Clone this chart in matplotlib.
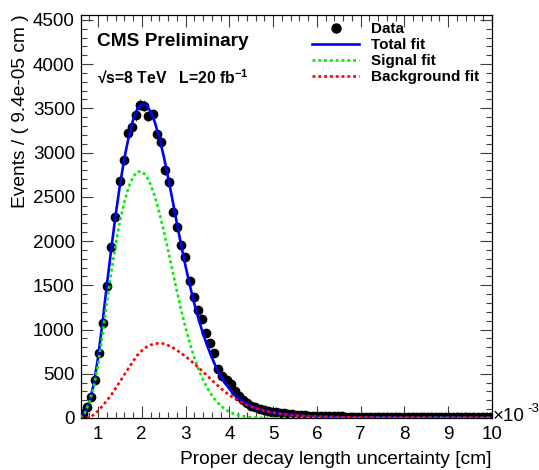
import numpy as np
import matplotlib
matplotlib.use("Agg")
import matplotlib.pyplot as plt
from matplotlib.lines import Line2D
from matplotlib.ticker import MultipleLocator, FuncFormatter

plt.rcParams['font.family'] = ['Liberation Sans', 'DejaVu Sans']
plt.rcParams['mathtext.fontset'] = 'custom'
plt.rcParams['mathtext.rm'] = 'Liberation Sans'
plt.rcParams['mathtext.bf'] = 'Liberation Sans:bold'

# ---- data ----
x_lo, x_hi, n_bins = 0.6e-3, 10.0e-3, 100
counts = [40, 125, 235, 425, 740, 1070, 1490, 1930, 2275, 2675,
          2920, 3220, 3290, 3420, 3540, 3530, 3416, 3439, 3210, 3115,
          2800, 2665, 2330, 2155, 1950, 1818, 1548, 1365, 1220, 1120,
          966, 845, 735, 550, 480, 435, 385, 300, 250, 205,
          172, 140, 122, 105, 92, 83, 72, 66, 56, 51,
          46, 40, 37, 33, 31, 27, 25, 24, 21, 20,
          19, 18, 17, 17, 16, 15, 16, 14, 14, 13,
          14, 12, 13, 12, 11, 12, 11, 10, 11, 10,
          10, 9, 10, 9, 9, 8, 9, 8, 8, 8,
          7, 8, 7, 7, 7, 6, 7, 6, 6, 6]

# fit curves, x in units of 1e-3 cm
curve_x = [0.6, 0.7, 0.8, 0.9, 1.0, 1.1, 1.2, 1.3, 1.4, 1.5,
           1.6, 1.7, 1.8, 1.9, 2.0, 2.1, 2.2, 2.3, 2.4, 2.5,
           2.6, 2.7, 2.8, 2.9, 3.0, 3.1, 3.2, 3.3, 3.4, 3.5,
           3.6, 3.7, 3.8, 3.9, 4.0, 4.1, 4.2, 4.3, 4.4, 4.5,
           4.6, 4.7, 4.8, 4.9, 5.0, 5.2, 5.4, 5.6, 5.8, 6.0,
           6.5, 7.0, 7.5, 8.0, 9.0, 10.0]
signal_fit = [0, 60, 175, 340, 600, 930, 1300, 1640, 1950, 2220,
              2440, 2610, 2725, 2785, 2785, 2740, 2640, 2500, 2320, 2120,
              1900, 1670, 1440, 1220, 1020, 840, 680, 545, 430, 335,
              255, 190, 140, 100, 70, 48, 32, 21, 13, 8,
              5, 3, 2, 1, 0.5, 0, 0, 0, 0, 0,
              0, 0, 0, 0, 0, 0]
background_fit = [0, 0, 5, 35, 80, 135, 195, 260, 335, 410,
                  488, 565, 640, 710, 760, 800, 825, 840, 845, 840,
                  822, 797, 766, 732, 695, 655, 612, 568, 522, 475,
                  428, 382, 338, 297, 260, 226, 196, 170, 147, 127,
                  110, 95, 82, 71, 61, 45, 34, 26, 20, 16,
                  10, 7, 5, 4, 3, 2]
total_fit = [0, 60, 180, 375, 680, 1065, 1495, 1900, 2285, 2630,
             2928, 3175, 3365, 3495, 3545, 3540, 3465, 3340, 3165, 2960,
             2722, 2467, 2206, 1952, 1715, 1495, 1292, 1113, 952, 810,
             683, 572, 478, 397, 330, 274, 228, 191, 160, 135,
             115, 98, 84, 72, 61.5, 45, 34, 26, 20, 16,
             10, 7, 5, 4, 3, 2]

legend_labels = ["Data", "Total fit", "Signal fit", "Background fit"]

# ---- figure ----
W, H = 539, 470
fig = plt.figure(figsize=(W / 100, H / 100), dpi=100)
ax = fig.add_axes([80.5 / W, 1 - 418 / H, (492 - 80.5) / W, (418 - 14.5) / H])

edges = np.linspace(x_lo, x_hi, n_bins + 1)
centers = 0.5 * (edges[:-1] + edges[1:])
y = np.array(counts, dtype=float)
ax.errorbar(centers, y, yerr=np.sqrt(y), fmt='o', color='black', ms=6,
            elinewidth=0.8, ecolor='0.3', capsize=0, zorder=2)

cx = np.array(curve_x) * 1e-3
ax.plot(cx, total_fit, color='#0000ff', lw=1.9, zorder=3)
ax.plot(cx, signal_fit, color='#00ee00', lw=1.9, ls=(0, (1.1, 1.1)), zorder=4)
ax.plot(cx, background_fit, color='#ff0000', lw=1.9, ls=(0, (1.1, 1.1)), zorder=5)

ax.set_xlim(x_lo, x_hi)
ax.set_ylim(0, 4560)

ax.xaxis.set_major_locator(MultipleLocator(1e-3))
ax.xaxis.set_minor_locator(MultipleLocator(0.2e-3))
ax.yaxis.set_major_locator(MultipleLocator(500))
ax.yaxis.set_minor_locator(MultipleLocator(100))
ax.xaxis.set_major_formatter(FuncFormatter(lambda v, p: f"{v * 1e3:.0f}"))
ax.tick_params(which='both', direction='in', top=True, right=True,
               labelsize=13.6, width=0.8, color='0.25')
ax.tick_params(which='major', length=8.6)
ax.tick_params(which='minor', length=4.3)
ax.tick_params(axis='x', which='major', pad=5.5)
ax.tick_params(axis='y', which='major', pad=4)
for s in ax.spines.values():
    s.set_linewidth(0.9)

ax.set_xlabel("Proper decay length uncertainty [cm]", fontsize=13.8, ha='right',
              x=1.0, labelpad=6)
ax.set_ylabel("Events / ( 9.4e-05 cm )", fontsize=13.8, ha='right', y=1.0, labelpad=3)

fig.text(493 / W, 1 - 421 / H, "×10", fontsize=13.6, ha='left', va='baseline')
fig.text(527 / W, 1 - 412 / H, "-3", fontsize=9.5, ha='left', va='baseline')

fig.text(97 / W, 1 - 42 / H, "CMS Preliminary", fontsize=13.8, fontweight='bold',
         ha='left', va='center')
fig.text(97 / W, 1 - 82.7 / H, r"√s=8 TeV   L=20 fb$^{\mathbf{-1}}$", fontsize=11.3,
         fontweight='bold', ha='left', va='baseline')

handles = [Line2D([], [], marker='o', color='black', ls='none', ms=6.5),
           Line2D([], [], color='#0000ff', lw=1.9),
           Line2D([], [], color='#00ee00', lw=1.9, ls=(0, (1.1, 1.1))),
           Line2D([], [], color='#ff0000', lw=1.9, ls=(0, (1.1, 1.1)))]
leg = fig.legend(handles, legend_labels, loc='upper left',
                 bbox_to_anchor=(312 / W, 1 - 22 / H), frameon=False,
                 prop={'weight': 'bold', 'size': 11}, handlelength=3.1,
                 handletextpad=0.75, labelspacing=0.13, borderpad=0,
                 borderaxespad=0)

fig.savefig("out.png", dpi=100)
